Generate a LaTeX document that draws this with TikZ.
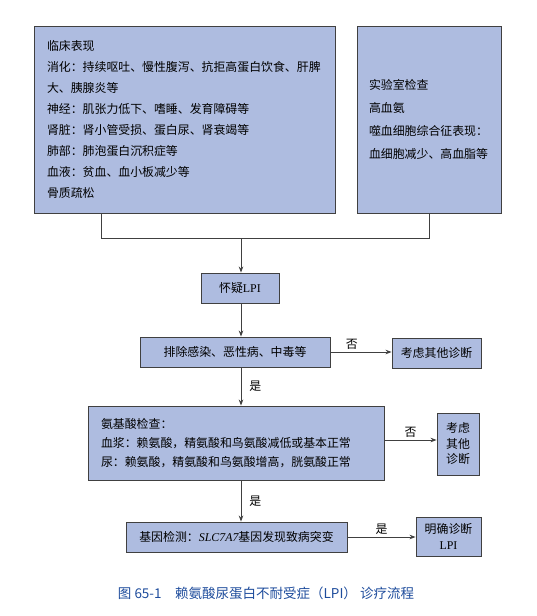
\documentclass[tikz,border=0pt]{standalone}
\usepackage{fontspec}
\setmainfont{Noto Sans CJK SC}
\newfontfamily\serifen{Liberation Serif}
\usetikzlibrary{arrows.meta,positioning,calc}
\definecolor{boxblue}{RGB}{174,188,224}
\definecolor{boxline}{RGB}{64,64,64}
\definecolor{capblue}{RGB}{30,76,156}

\begin{document}
\begin{tikzpicture}[x=1pt,y=-1pt,
  box/.style={draw=boxline,fill=boxblue,line width=0.9pt,inner sep=0pt,
              font=\fontsize{11.9}{15.5}\selectfont,align=center},
  arr/.style={-{Stealth[length=6pt,width=4.5pt]},draw=boxline,line width=0.8pt},
  conn/.style={draw=boxline,line width=0.8pt},
  lbl/.style={font=\fontsize{11.9}{14}\selectfont,inner sep=2pt}
]
\useasboundingbox (0,0) rectangle (537,616);

% upper boxes
\node[box,minimum width=301pt,minimum height=187pt,text width=275pt,align=left,
      font=\fontsize{11.9}{21}\selectfont] (clin) at (184.5,119.5)
  {临床表现\\
   消化：持续呕吐、慢性腹泻、抗拒高蛋白饮食、肝脾\\
   大、胰腺炎等\\
   神经：肌张力低下、嗜睡、发育障碍等\\
   肾脏：肾小管受损、蛋白尿、肾衰竭等\\
   肺部：肺泡蛋白沉积症等\\
   血液：贫血、血小板减少等\\
   骨质疏松};
\node[box,minimum width=144pt,minimum height=187pt,text width=120pt,align=left,
      font=\fontsize{11.9}{23}\selectfont] (lab) at (429,119.5)
  {实验室检查\\
   高血氨\\
   噬血细胞综合征表现：\\
   血细胞减少、高血脂等};

% flow
\node[box,minimum width=78pt,minimum height=30pt] (suspect) at (240,288) {怀疑{\serifen LPI}};
\node[box,minimum width=190pt,minimum height=30pt] (exclude) at (235,352) {排除感染、恶性病、中毒等};
\node[box,minimum width=89pt,minimum height=30pt] (other1) at (436.5,353) {考虑其他诊断};
\node[box,minimum width=296pt,minimum height=74pt,text width=270pt,align=left,
      font=\fontsize{11.9}{19}\selectfont] (amino) at (236,443)
  {氨基酸检查：\\
   血浆：赖氨酸，精氨酸和鸟氨酸减低或基本正常\\
   尿：赖氨酸，精氨酸和鸟氨酸增高，胱氨酸正常};
\node[box,minimum width=42pt,minimum height=62pt] (other2) at (458,444) {考虑\\其他\\诊断};
\node[box,minimum width=221pt,minimum height=30pt] (gene) at (236.5,537)
  {基因检测：{\serifen\itshape SLC7A7}基因发现致病突变};
\node[box,minimum width=65pt,minimum height=39pt] (confirm) at (448.5,536.5)
  {明确诊断\\{\serifen LPI}};

% connectors
\coordinate (jl) at (101,238);
\coordinate (jm) at (241,238);
\coordinate[yshift=3pt] (ae) at (amino.east);
\draw[conn] (clin.south -| jl) -- (jl) -| (lab.south);
\draw[arr] (jm) -- (suspect.north -| jm);
\draw[arr] (suspect.south -| jm) -- (exclude.north -| jm);
\draw[arr] (exclude.east) -- node[lbl,above,pos=0.35]{否} (exclude.east -| other1.west);
\draw[arr] (exclude.south -| jm) -- node[lbl,right,xshift=6pt]{是} (amino.north -| jm);
\draw[arr] (ae) -- node[lbl,above]{否} (ae -| other2.west);
\draw[arr] (amino.south -| jm) -- node[lbl,right,xshift=6pt]{是} (gene.north -| jm);
\draw[arr] (gene.east) -- node[lbl,above]{是} (gene.east -| confirm.west);

% caption
\node[font=\fontsize{13.5}{15}\selectfont,text=capblue] (cap) at (266,593)
  {图 65-1\quad 赖氨酸尿蛋白不耐受症（LPI） 诊疗流程};
\end{tikzpicture}
\end{document}
